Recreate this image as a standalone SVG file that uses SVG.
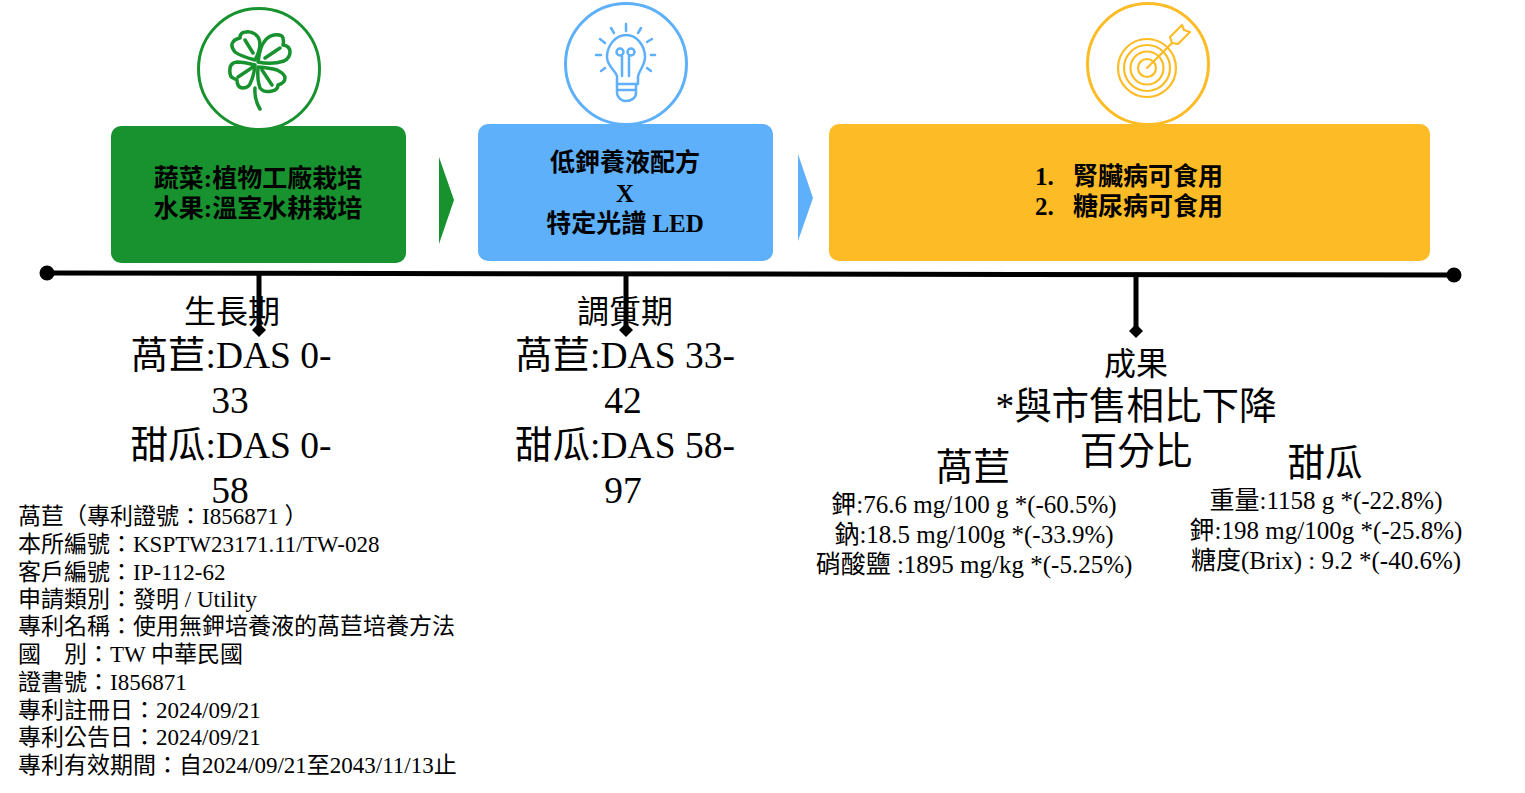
<svg xmlns="http://www.w3.org/2000/svg" width="1525" height="793" viewBox="0 0 1525 793">
<style>
text{font-family:"Liberation Serif","Noto Sans CJK TC",serif;fill:#000}
.m{text-anchor:middle}
.b{font-weight:700;font-size:25px}
.h{font-size:32px}
.l{font-size:37.500px}
.s{font-size:25px}
.p{font-size:23px}
.ring{fill:#fff;stroke-width:3}
.ic{fill:none;stroke-width:3.500px;stroke-linecap:round;stroke-linejoin:round}
.thin{stroke-width:2.500px}
.tt{stroke-width:2.200px}
.g{stroke:#18922f}.bl{stroke:#5eb0fb}.y{stroke:#fdbc26}
.conn{stroke:#000;fill:none}
</style>
<defs>
<marker id="dot" markerUnits="userSpaceOnUse" markerWidth="16" markerHeight="16" refX="8" refY="8"><circle cx="8" cy="8" r="7.500" fill="#000"/></marker>
<marker id="dia" markerUnits="userSpaceOnUse" markerWidth="18" markerHeight="18" refX="9" refY="9"><path d="M9 2L16 9L9 16L2 9Z" fill="#000"/></marker>
</defs>

<g id="node-grow">
<rect x="111" y="126" width="295" height="137" rx="10" fill="#18922f"/>
<circle class="ring g" cx="259" cy="69" r="60.500"/>
<g class="ic g">
<path d="M255 60Q240 56 235 52Q230 46 233 42Q235 39 240 38Q240 32 246 32Q253 31 258 37Q263 45 255 60Z"/>
<path d="M258 62Q260 47 264 42Q268 36 274 35Q282 34 283 38Q284 42 283 45Q290 46 290 52Q290 58 284 61Q272 65 258 62Z"/>
<path d="M255 65Q244 62 237 62Q230 63 230 69Q229 76 233 78L237 80Q237 87 242 88Q248 88 250 84Q254 76 255 65Z"/>
<path d="M258 67Q270 68 277 70Q285 74 285 78Q285 83 278 85Q278 90 272 91Q264 93 260 88Q257 80 258 67Z"/>
<path d="M255 88Q254 99 260 109"/>
<path d="M245 40L253 53M265 58L280 48M238 77L253 67M262 70L272 85"/>
</g>
</g>

<g id="node-adjust">
<rect x="478" y="124" width="295" height="137" rx="10" fill="#5eb0fb"/>
<circle class="ring bl" cx="626" cy="64" r="60.500"/>
<g class="ic bl thin">
<path d="M607 57C607 45 616 35 626 35C637 35 645 46 645 57C645 65 640 69 638 76L638 84H617V76C615 70 607 66 607 57Z"/>
<path d="M617 84V93C617 97 621 101 626 101C631 101 636 98 636 93V84M617 90H636"/>
<circle cx="620" cy="52" r="3.500"/><circle cx="631" cy="52" r="3.500"/>
<path d="M622 56V76M629 56V76"/>
<path d="M626 24V31M611 28L614 33M641 28L638 33M600 39L605 43M652 39L647 42M596 55H601M651 55H655M601 71L605 68M651 71L647 68"/>
</g>
</g>

<g id="node-result">
<rect x="829" y="124" width="601" height="137" rx="10" fill="#fdbc26"/>
<circle class="ring y" cx="1148" cy="64" r="60.500"/>
<g class="ic y tt">
<circle cx="1147" cy="68" r="29"/>
<circle cx="1147" cy="68" r="23"/>
<circle cx="1147" cy="68" r="16.500"/>
<circle cx="1147" cy="68" r="9"/>
<path d="M1147 68L1172 43"/>
<path d="M1170 37L1182 25L1184 30L1190 32L1178 44L1172 43Z"/>
</g>
</g>

<g id="node-arrow-1"><path d="M439 157L454 200L439 244Z" fill="#18922f"/></g>
<g id="node-arrow-2"><path d="M798 154L813 198L798 241Z" fill="#5eb0fb"/></g>

<g id="connectors" class="conn">
<path d="M47 273L1454 275" stroke-width="5" marker-start="url(#dot)" marker-end="url(#dot)"/>
<path d="M259 273V330" stroke-width="5" marker-end="url(#dia)"/>
<path d="M626 273V330" stroke-width="5" marker-end="url(#dia)"/>
<path d="M1136 274V331" stroke-width="5" marker-end="url(#dia)"/>
</g>

<g id="label-grow-box" class="m b">
<text x="258" y="187">蔬菜:植物工廠栽培</text>
<text x="258" y="217">水果:溫室水耕栽培</text>
</g>
<g id="label-adjust-box" class="m b">
<text x="625" y="171">低鉀養液配方</text>
<text x="625" y="202">X</text>
<text x="625" y="232">特定光譜 LED</text>
</g>
<g id="label-result-box" class="b">
<text x="1035" y="185">1.</text><text x="1073" y="185">腎臟病可食用</text>
<text x="1035" y="215">2.</text><text x="1073" y="215">糖尿病可食用</text>
</g>

<g id="label-grow" class="m">
<text x="232" y="323" class="h">生長期</text>
<text x="231" y="368" class="l">萵苣:DAS 0-</text>
<text x="230" y="413" class="l">33</text>
<text x="231" y="458" class="l">甜瓜:DAS 0-</text>
<text x="230" y="503" class="l">58</text>
</g>
<g id="label-adjust" class="m">
<text x="625" y="323" class="h">調質期</text>
<text x="625" y="368" class="l">萵苣:DAS 33-</text>
<text x="623" y="413" class="l">42</text>
<text x="625" y="458" class="l">甜瓜:DAS 58-</text>
<text x="623" y="503" class="l">97</text>
</g>
<g id="label-result" class="m">
<text x="1136" y="375" class="h">成果</text>
<text x="1136" y="419" class="l">*與市售相比下降</text>
<text x="1136" y="464" class="l">百分比</text>
<text x="973" y="480" class="l">萵苣</text>
<text x="1325" y="476" class="l">甜瓜</text>
</g>
<g id="label-lettuce" class="m s">
<text x="974" y="513">鉀:76.6 mg/100 g *(-60.5%)</text>
<text x="974" y="543">鈉:18.5 mg/100g *(-33.9%)</text>
<text x="974" y="573">硝酸鹽 :1895 mg/kg *(-5.25%)</text>
</g>
<g id="label-melon" class="m s">
<text x="1326" y="509">重量:1158 g *(-22.8%)</text>
<text x="1326" y="539">鉀:198 mg/100g *(-25.8%)</text>
<text x="1326" y="569">糖度(Brix) : 9.2 *(-40.6%)</text>
</g>
<g id="label-patent" class="p">
<text x="18" y="524">萵苣（專利證號：I856871 ）</text>
<text x="18" y="552">本所編號：KSPTW23171.11/TW-028</text>
<text x="18" y="580">客戶編號：IP-112-62</text>
<text x="18" y="607">申請類別：發明 / Utility</text>
<text x="18" y="634">專利名稱：使用無鉀培養液的萵苣培養方法</text>
<text x="18" y="662">國　別：TW 中華民國</text>
<text x="18" y="690">證書號：I856871</text>
<text x="18" y="718">專利註冊日：2024/09/21</text>
<text x="18" y="745">專利公告日：2024/09/21</text>
<text x="18" y="773">專利有效期間：自2024/09/21至2043/11/13止</text>
</g>
</svg>
